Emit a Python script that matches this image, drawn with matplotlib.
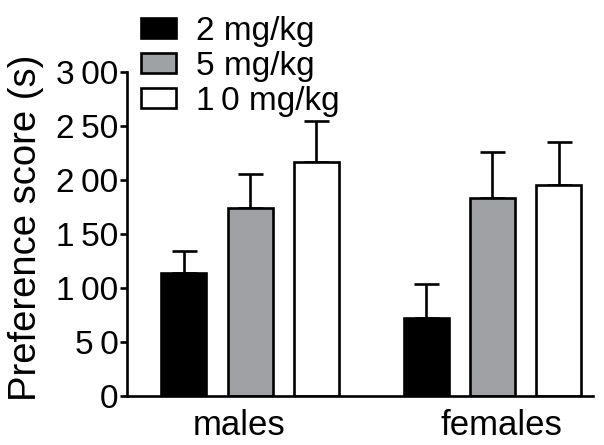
import matplotlib
matplotlib.use("Agg")
from matplotlib import pyplot as plt
import numpy as np

plt.rcParams['font.family'] = ['Liberation Sans', 'DejaVu Sans']

# data
groups = ['males', 'females']
doses = ['2 mg/kg', '5 mg/kg', '1\u20090 mg/kg']
means = {
    '2 mg/kg': [114, 72],
    '5 mg/kg': [174, 183],
    '10 mg/kg': [217, 195],
}
errors = {
    '2 mg/kg': [20, 32],
    '5 mg/kg': [32, 43],
    '10 mg/kg': [38, 40],
}
colors = ['black', '#a0a1a4', 'white']
y_ticks = [0, 50, 100, 150, 200, 250, 300]
y_tick_labels = ['0', '5\u20090', '1\u200900', '1\u200950', '2\u200900', '2\u200950', '3\u200900']

fig = plt.figure(figsize=(6.04, 4.45), dpi=100)
ax = fig.add_axes([0.210, 0.110, 0.772, 0.728])

group_x = np.array([0.0, 3.66])
width = 0.68
for i, key in enumerate(means):
    x = group_x + i
    ax.bar(x, means[key], width, color=colors[i], edgecolor='black',
           linewidth=1.9, label=doses[i], zorder=2)
    ax.errorbar(x, means[key], yerr=[np.zeros(2), errors[key]], fmt='none',
                ecolor='black', elinewidth=1.9, capsize=9, capthick=1.9, zorder=1)

ax.set_xlim(-0.86, 6.18)
ax.set_ylim(0, 300)
# group labels sit a little off the group centres in the original
ax.set_xticks(group_x + 1 + np.array([-0.17, 0.14]))
ax.set_xticklabels(groups, fontsize=25)
ax.tick_params(axis='x', length=0, pad=9)
ax.set_yticks(y_ticks)
ax.set_yticklabels(y_tick_labels, fontsize=24)
ax.tick_params(axis='y', length=5, width=1.9, pad=1)
ax.set_ylabel('Preference score (s)', fontsize=27.5)
ax.yaxis.set_label_coords(-0.177, 0.52)

for side in ['top', 'right']:
    ax.spines[side].set_visible(False)
for side in ['left', 'bottom']:
    ax.spines[side].set_linewidth(1.9)

fig.legend(loc='upper left', bbox_to_anchor=(0.2, 1.01), frameon=False,
           fontsize=24, handlelength=1.05, handleheight=0.55, handletextpad=0.6,
           labelspacing=0.12, borderaxespad=0.2)

fig.savefig('out.png', dpi=100)
